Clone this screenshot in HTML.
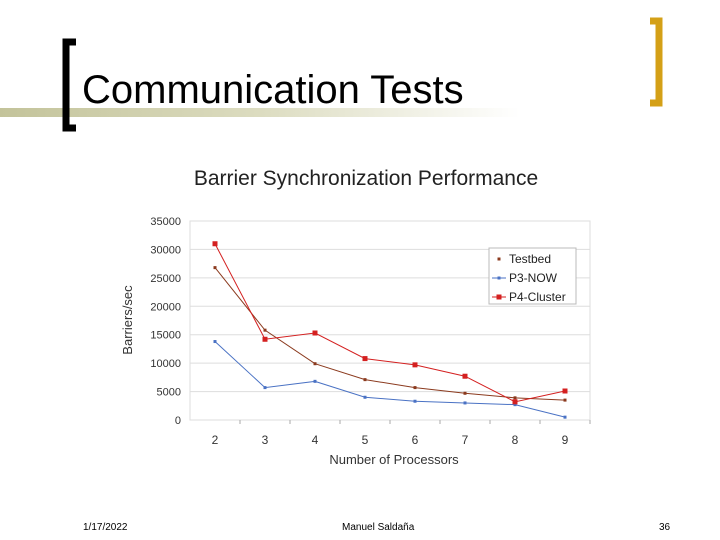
<!DOCTYPE html>
<html><head><meta charset="utf-8"><style>
body{margin:0;width:720px;height:540px;background:#fff;position:relative;overflow:hidden;font-family:"Liberation Sans",sans-serif}
.a{position:absolute}
</style></head><body>
<div class="a" style="left:0;top:108px;width:520px;height:9px;background:linear-gradient(90deg,#c3c39a,#dcdcc0 50%,#fff)"></div>
<svg class="a" style="left:0;top:0" width="720" height="140">
<path d="M76,42 H66 V128 H76" fill="none" stroke="#000" stroke-width="7"/>
<path d="M650,21 H659 V103 H650" fill="none" stroke="#d4a017" stroke-width="7"/>
</svg>
<div class="a" style="left:82px;top:67px;font-size:40px;line-height:46px;color:#000">Communication Tests</div>
<svg class="a" style="left:0;top:0" width="720" height="540" id="chart"></svg>
<div class="a" style="left:83px;top:522px;font-size:10px">1/17/2022</div>
<div class="a" style="left:342px;top:522px;font-size:10px">Manuel Saldaña</div>
<div class="a" style="left:659px;top:522px;font-size:10px">36</div>
<script>
const categories=[2,3,4,5,6,7,8,9];
const testbed=[26800,15800,9900,7100,5700,4700,3900,3500];
const p3now=[13800,5700,6800,4000,3300,3000,2700,500];
const p4cluster=[31000,14200,15300,10800,9700,7700,3200,5100];
const yTicks=[0,5000,10000,15000,20000,25000,30000,35000];
const svg=document.getElementById('chart');const NS='http://www.w3.org/2000/svg';
const L=190,R=590,T=221,B=420,yMax=35000;
const x=i=>L+(R-L)/categories.length*(i+0.5);
const y=v=>B-(B-T)*v/yMax;
function el(t,a,p){const e=document.createElementNS(NS,t);for(const k in a)e.setAttribute(k,a[k]);(p||svg).appendChild(e);return e;}
let e=el('rect',{x:L,y:T,width:R-L,height:B-T,fill:'none',stroke:'#ddd'});


yTicks.forEach(v=>{
 let g=el('line',{x1:L,x2:R,y1:y(v),y2:y(v),stroke:'#ddd'});
 
 
 let t=el('text',{x:181,y:y(v)+4,'text-anchor':'end','font-size':11,fill:'#333'});t.textContent=v;
 
 
});
categories.forEach((c,i)=>{
 let tk=el('line',{x1:L+50*(i+1),x2:L+50*(i+1),y1:B,y2:B+4,stroke:'#aaa'});
 
 
 let t=el('text',{x:x(i),y:B+24,'text-anchor':'middle','font-size':12,fill:'#333'});t.textContent=c;
 
 
});
let tt=el('text',{x:366,y:185,'text-anchor':'middle','font-size':21,fill:'#222'});tt.textContent='Barrier Synchronization  Performance';


let xt=el('text',{x:394,y:464,'text-anchor':'middle','font-size':13,fill:'#333'});xt.textContent='Number of Processors';


let yt=el('text',{x:132,y:320,'text-anchor':'middle','font-size':13,fill:'#333',transform:'rotate(-90 132 320)'});yt.textContent='Barriers/sec';


const series=[[testbed,'#8b3a1e',3,'testbed'],[p3now,'#4a72c4',3,'p3-now'],[p4cluster,'#d42020',5,'p4-cluster']];
series.forEach(([d,c,m,n])=>{
 let p=el('polyline',{points:d.map((v,i)=>x(i)+','+y(v)).join(' '),fill:'none',stroke:c,'stroke-width':1});
 
 
 d.forEach((v,i)=>{let r=el('rect',{x:x(i)-m/2,y:y(v)-m/2,width:m,height:m,fill:c});
  
  });
});
let lg=el('rect',{x:489,y:248,width:87,height:56,fill:'#fff',stroke:'#bbb'});


['Testbed','P3-NOW','P4-Cluster'].forEach((n,i)=>{
 const [d,c,m]=series[i];const yy=259+i*19;
 if(i>0){let l=el('line',{x1:492,x2:506,y1:yy,y2:yy,stroke:c});
  
  }
 let r=el('rect',{x:499-m/2,y:yy-m/2,width:m,height:m,fill:c});
 
 
 let t=el('text',{x:509,y:yy+4,'font-size':12,fill:'#222'});t.textContent=n;
 
 
});
</script>
</body></html>
